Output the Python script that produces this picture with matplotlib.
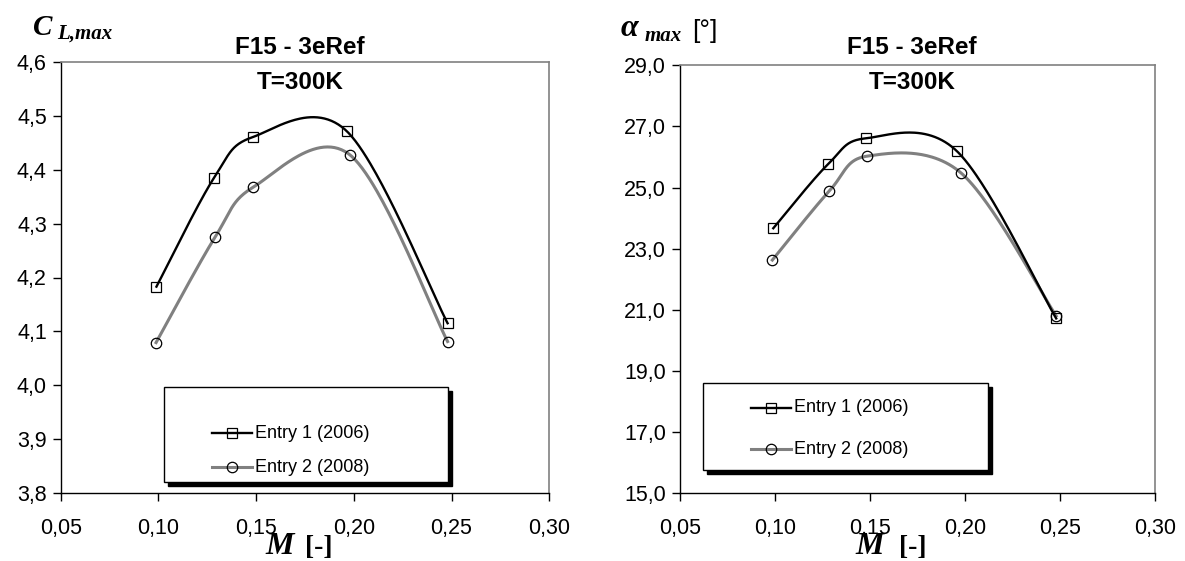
import numpy as np
import matplotlib
matplotlib.use("Agg")
import matplotlib.pyplot as plt
from matplotlib.patches import Rectangle
from matplotlib.lines import Line2D
from matplotlib.ticker import FuncFormatter

# Mach numbers and measured maxima for the two wind-tunnel entries
mach_e1 = [0.099, 0.1285, 0.1483, 0.1964, 0.248]
mach_e2 = [0.0988, 0.129, 0.1486, 0.198, 0.248]
clmax_e1 = [4.183, 4.3855, 4.461, 4.472, 4.115]
clmax_e2 = [4.079, 4.275, 4.368, 4.428, 4.081]

mach_a1 = [0.0991, 0.128, 0.1477, 0.1956, 0.248]
mach_a2 = [0.0986, 0.1286, 0.1486, 0.1977, 0.248]
alpha_e1 = [23.67, 25.77, 26.61, 26.20, 20.72]
alpha_e2 = [22.63, 24.89, 26.03, 25.49, 20.80]

series_labels = ["Entry 1 (2006)", "Entry 2 (2008)"]
title_lines = ["F15 - 3eRef", "T=300K"]
mach_ticks = [0.05, 0.10, 0.15, 0.20, 0.25, 0.30]
cl_ticks = [3.8, 3.9, 4.0, 4.1, 4.2, 4.3, 4.4, 4.5, 4.6]
alpha_ticks = [15.0, 17.0, 19.0, 21.0, 23.0, 25.0, 27.0, 29.0]

SANS = "Liberation Sans"
SERIF = "Liberation Serif"
GREY = "#808080"


def smooth_curve(x, y, n=60):
    """Piecewise cubic Bezier through the points (spreadsheet-style smoothing)."""
    pts = np.column_stack([x, y]).astype(float)
    P = np.vstack([pts[0], pts, pts[-1]])
    out = []
    t = np.linspace(0, 1, n)[:, None]
    for i in range(1, len(P) - 2):
        p0, p1, p2, p3 = P[i - 1], P[i], P[i + 1], P[i + 2]
        c1 = p1 + (p2 - p0) / 6.0
        c2 = p2 - (p3 - p1) / 6.0
        seg = ((1 - t) ** 3) * p1 + 3 * ((1 - t) ** 2) * t * c1 \
            + 3 * (1 - t) * t ** 2 * c2 + t ** 3 * p2
        out.append(seg)
    c = np.vstack(out)
    return c[:, 0], c[:, 1]


def comma(fmt):
    return FuncFormatter(lambda v, _: (fmt % v).replace(".", ","))


W, H = 1185, 561
fig = plt.figure(figsize=(W / 100, H / 100), dpi=100)


def px_axes(x0, y0, x1, y1):
    return fig.add_axes([x0 / W, 1 - y1 / H, (x1 - x0) / W, (y1 - y0) / H])


def style_axes(ax, xticks, yticks, yfmt):
    ax.set_xlim(xticks[0], xticks[-1])
    ax.set_ylim(yticks[0], yticks[-1])
    ax.set_xticks(xticks)
    ax.set_yticks(yticks)
    ax.xaxis.set_major_formatter(comma("%.2f"))
    ax.yaxis.set_major_formatter(comma(yfmt))
    for s in ("top", "right"):
        ax.spines[s].set_color(GREY)
        ax.spines[s].set_linewidth(1.2)
    for s in ("left", "bottom"):
        ax.spines[s].set_color("black")
        ax.spines[s].set_linewidth(1.0)
    ax.tick_params(direction="out", length=6, width=1.0, color="black",
                   labelsize=15.5, pad=4)
    ax.tick_params(axis="x", pad=12)
    for lbl in ax.get_xticklabels() + ax.get_yticklabels():
        lbl.set_fontfamily(SANS)


def draw_series(ax, x1, y1, x2, y2):
    sx, sy = smooth_curve(x2, y2)
    ax.plot(sx, sy, color=GREY, lw=2.2, zorder=2)
    ax.plot(x2, y2, ls="none", marker="o", ms=7.5, mfc="none", mec="black",
            mew=0.9, zorder=4)
    sx, sy = smooth_curve(x1, y1)
    ax.plot(sx, sy, color="black", lw=1.7, zorder=3)
    ax.plot(x1, y1, ls="none", marker="s", ms=7.5, mfc="none", mec="black",
            mew=0.9, zorder=4)


def draw_legend(ax, box, rows_y):
    # box and rows are given in figure pixels from the top-left corner
    x0, y0, x1, y1 = box
    inv = ax.transAxes.inverted()

    def to_ax(px, py):
        return inv.transform(fig.transFigure.transform((px / W, 1 - py / H)))
    a0 = to_ax(x0, y1)
    a1 = to_ax(x1, y0)
    w, h = a1[0] - a0[0], a1[1] - a0[1]
    sh = to_ax(x0 + 4, y1 + 4) - a0
    ax.add_patch(Rectangle((a0[0] + sh[0], a0[1] + sh[1]), w, h,
                           transform=ax.transAxes, facecolor="black",
                           edgecolor="black", zorder=9, clip_on=False))
    ax.add_patch(Rectangle(a0, w, h, transform=ax.transAxes,
                           facecolor="white", edgecolor="black", lw=1.0,
                           zorder=10, clip_on=False))
    styles = [("black", 1.7, "s"), (GREY, 2.2, "o")]
    for (col, lw, mk), label, ry in zip(styles, series_labels, rows_y):
        l0 = to_ax(x0 + 48, ry)
        l1 = to_ax(x0 + 88, ry)
        ax.add_line(Line2D([l0[0], l1[0]], [l0[1], l1[1]], color=col, lw=lw,
                           transform=ax.transAxes, zorder=11, clip_on=False))
        m = to_ax(x0 + 68, ry)
        ax.add_line(Line2D([m[0]], [m[1]], marker=mk, ms=7.5, mfc="none",
                           mec="black", mew=0.9, transform=ax.transAxes,
                           zorder=12, clip_on=False))
        tp = to_ax(x0 + 91, ry)
        ax.text(tp[0], tp[1], label, transform=ax.transAxes, fontsize=13,
                family=SANS, va="center", ha="left", zorder=12)


def draw_title(xc, rows_y):
    for line, ry in zip(title_lines, rows_y):
        fig.text(xc / W, 1 - ry / H, line, ha="center", va="center",
                 fontsize=17.5, fontweight="bold", family=SANS, zorder=20)


# ---- left: maximum lift coefficient ----
axL = px_axes(60.7, 62.3, 549.2, 492.7)
style_axes(axL, mach_ticks, cl_ticks, "%.1f")
draw_series(axL, mach_e1, clmax_e1, mach_e2, clmax_e2)
draw_title(300, (48, 82))
draw_legend(axL, (164, 387, 448, 482), (433, 467))

# ---- right: maximum angle of attack ----
axR = px_axes(680, 65.3, 1155, 493.3)
style_axes(axR, mach_ticks, alpha_ticks, "%.1f")
draw_series(axR, mach_a1, alpha_e1, mach_a2, alpha_e2)
draw_title(912, (48, 82))
draw_legend(axR, (703, 383, 988, 470), (408, 449))

# ---- axis captions ----
fig.text(33 / W, 1 - 35 / H, "C", fontsize=21, family=SERIF,
         fontweight="bold", style="italic", va="baseline")
fig.text(57 / W, 1 - 39 / H, "L,max", fontsize=15, family=SERIF,
         fontweight="bold", style="italic", va="baseline")

fig.text(621 / W, 1 - 36 / H, "\u03b1", fontsize=23, family=SERIF,
         fontweight="bold", style="italic", va="baseline")
fig.text(645 / W, 1 - 41 / H, "max", fontsize=15, family=SERIF,
         fontweight="bold", style="italic", va="baseline")
fig.text(692 / W, 1 - 38 / H, "[\u00b0]", fontsize=19, family=SANS,
         va="baseline")

for mx, bx in ((265, 305), (855, 899)):
    fig.text(mx / W, 1 - 554 / H, "M", fontsize=23, family=SERIF,
             fontweight="bold", style="italic", va="baseline")
    fig.text(bx / W, 1 - 554 / H, "[-]", fontsize=20, family=SERIF,
             fontweight="bold", va="baseline")

fig.savefig("out.png", dpi=100)
